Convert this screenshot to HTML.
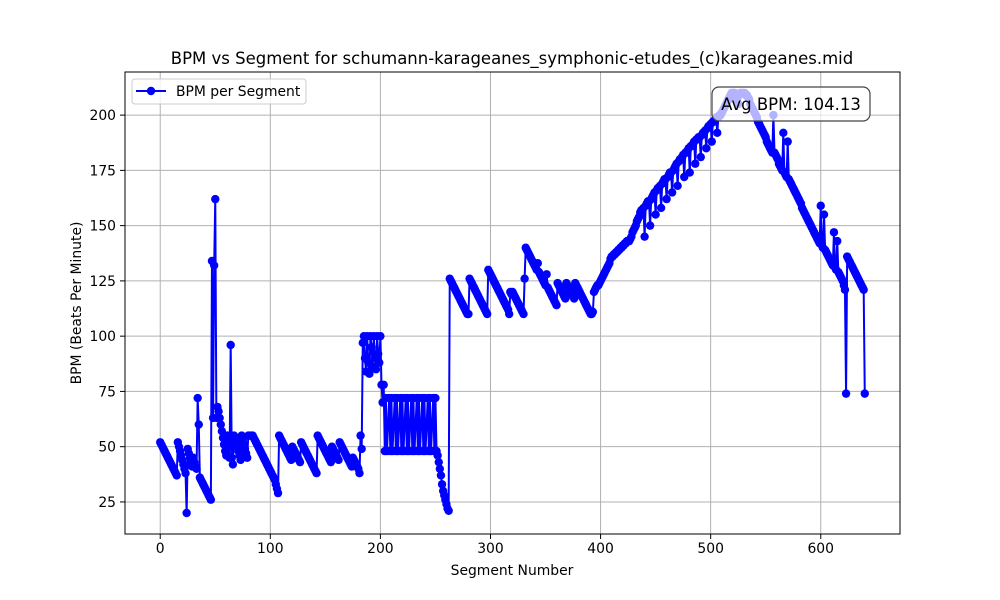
<!DOCTYPE html>
<html><head><meta charset="utf-8"><style>
html,body{margin:0;padding:0;background:#fff;}
svg{display:block;font-family:"DejaVu Sans","Liberation Sans",sans-serif;}
</style></head><body>
<svg id="chart" width="1000" height="600" viewBox="0 0 1000 600" xmlns="http://www.w3.org/2000/svg">
<rect width="1000" height="600" fill="#fff"/>
<g id="grid"></g>
<g id="series"></g>
<rect x="125" y="72" width="775" height="462" fill="none" stroke="#000" stroke-width="1"/>
<g id="ticks"></g>
<text x="512" y="64" text-anchor="middle" font-size="16.5">BPM vs Segment for schumann-karageanes_symphonic-etudes_(c)karageanes.mid</text>
<text x="512" y="575" text-anchor="middle" font-size="13.9">Segment Number</text>
<text transform="translate(81,303) rotate(-90)" text-anchor="middle" font-size="13.9">BPM (Beats Per Minute)</text>
<g>
<rect x="132" y="79" width="174" height="25" rx="3" fill="#fff" fill-opacity="0.8" stroke="#ccc"/>
<line x1="136" y1="91" x2="166" y2="91" stroke="#0000ff" stroke-width="2"/>
<circle cx="151" cy="91" r="4.2" fill="#0000ff"/>
<text x="176" y="96" font-size="13.9">BPM per Segment</text>
</g>
<g>
<rect x="712" y="87" width="158" height="34" rx="7" fill="#fff" fill-opacity="0.7" stroke="#444" stroke-width="1.2"/>
<text x="791" y="110" text-anchor="middle" font-size="16.5">Avg BPM: 104.13</text>
</g>
</svg>
<script>
const xTicks = [0,100,200,300,400,500,600];
const yTicks = [25,50,75,100,125,150,175,200];
const bpm = [
52,51,50,49,48,47,46,45,44,43,42,41,40,39,38,37,
52,50,48,46,44,42,40,38,
20,
49,47,45,43,41,45,43,41,40,
72,60,
36,35,34,33,32,31,30,29,28,27,26,
134,63,132,162,63,
68,66,63,60,57,54,51,48,46,
55,50,45,
96,
45,42,
55,54,52,50,48,46,44,55,53,51,49,47,45,
55,55,55,55,55,54,53,52,51,50,49,48,47,46,45,44,43,42,41,40,39,38,37,36,35,33,31,29,
55,54,53,52,51,50,49,48,47,46,45,44,50,49,48,47,46,45,44,43,52,51,50,49,48,47,46,45,44,43,42,41,40,39,38,55,54,53,
52,51,50,49,48,47,46,45,44,43,50,49,48,47,46,45,44,52,51,50,49,48,47,46,45,44,43,42,41,45,44,43,42,41,40,38,
55,49,97,100,90,84,100,88,83,100,95,86,100,90,85,100,92,88,100,78,70,78,48,
72,48,60,72,48,72,48,60,72,48,72,48,60,72,48,72,48,60,72,48,72,48,60,72,48,72,48,60,72,48,72,48,60,72,48,72,48,60,72,48,72,48,60,72,48,72,
48,46,43,40,37,33,30,28,26,24,22,21,
126,125,124,123,122,121,120,119,118,117,116,115,114,113,112,111,110,110,
126,125,124,123,122,121,120,119,118,117,116,115,114,113,112,111,110,
130,129,128,127,126,125,124,123,122,121,120,119,118,117,116,115,114,113,112,110,
120,119,
120,119,118,117,116,115,114,113,112,111,110,126,
140,139,138,137,136,135,134,133,132,131,130,133,129,128,127,126,125,124,123,128,122,121,120,119,118,117,116,115,114,
124,123,122,121,120,119,118,117,124,123,122,121,120,119,118,117,124,123,122,121,120,119,118,117,116,115,114,113,112,111,110,110,
111,120,121,122,123,123,124,125,
126,127,128,129,130,131,132,133,135,136,
136,137,137,138,138,139,139,140,140,141,141,142,142,143,143,143,
144,145,147,148,149,150,152,153,154,156,
157,157,158,145,159,160,161,161,150,162,163,164,165,155,166,167,167,168,158,169,170,171,171,162,172,173,174,174,165,175,176,177,178,168,179,180,
180,181,182,172,183,183,184,185,174,186,186,187,188,178,189,189,190,190,181,191,192,192,193,185,194,195,195,196,188,197,197,198,199,192,199,200,200,201,
202,203,204,205,206,207,208,209,210,210,210,210,208,207,205,209,210,210,210,210,210,209,
209,208,207,205,204,203,202,201,200,199,197,196,195,194,193,192,191,190,188,187,186,185,184,183,200,183,182,181,180,178,177,
176,175,192,174,173,172,188,171,170,169,168,167,166,165,164,163,162,161,160,158,157,156,155,154,153,152,151,150,149,148,147,146,145,144,143,142,159,
141,140,155,139,138,137,136,135,134,133,132,147,131,130,143,129,128,127,126,125,123,121,
74,
136,135,134,133,132,131,130,129,128,127,126,125,124,123,122,121,
74
];
const X0=125,X1=900,Y0=534,Y1=72;
const xMin=-32,xMax=672,yMin=10.5,yMax=219.5;
function sx(v){return X0+(v-xMin)/(xMax-xMin)*(X1-X0);}
function sy(v){return Y0-(v-yMin)/(yMax-yMin)*(Y0-Y1);}
const NS="http://www.w3.org/2000/svg";
const grid=document.getElementById('grid'),ticks=document.getElementById('ticks'),series=document.getElementById('series');
function mk(tag,attrs,parent){const e=document.createElementNS(NS,tag);for(const k in attrs)e.setAttribute(k,attrs[k]);parent.appendChild(e);return e;}
xTicks.forEach(t=>{
  const x=sx(t);
  const g=mk('line',{x1:x,x2:x,y1:Y1,y2:Y0,stroke:'#b0b0b0','stroke-width':1},grid);
  
  
  const tk=mk('line',{x1:x,x2:x,y1:Y0,y2:Y0+5,stroke:'#000','stroke-width':1},ticks);
  
  
  const lb=mk('text',{x:x,y:Y0+19,'text-anchor':'middle','font-size':13.9},ticks);
  lb.textContent=t;
  
  
});
yTicks.forEach(t=>{
  const y=sy(t);
  const g=mk('line',{x1:X0,x2:X1,y1:y,y2:y,stroke:'#b0b0b0','stroke-width':1},grid);
  
  
  const tk=mk('line',{x1:X0-5,x2:X0,y1:y,y2:y,stroke:'#000','stroke-width':1},ticks);
  
  
  const lb=mk('text',{x:X0-9,y:y+5,'text-anchor':'end','font-size':13.9},ticks);
  lb.textContent=t;
  
  
});
const pts=bpm.map((v,i)=>sx(i).toFixed(2)+','+sy(v).toFixed(2)).join(' ');
const pl=mk('polyline',{points:pts,fill:'none',stroke:'#0000ff','stroke-width':2,'stroke-linejoin':'round'},series);


bpm.forEach((v,i)=>{
  const c=mk('circle',{cx:sx(i),cy:sy(v),r:4.2,fill:'#0000ff'},series);
  
  
});
</script>
</body></html>
